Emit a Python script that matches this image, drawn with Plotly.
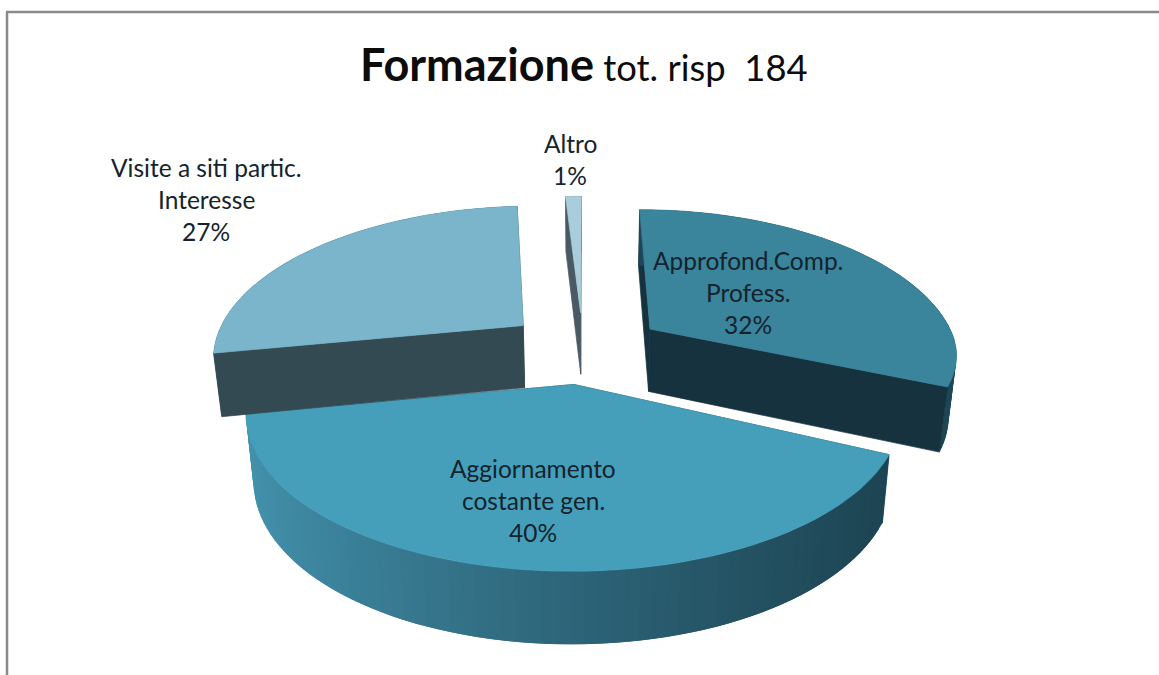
import numpy as np
import plotly.graph_objects as go

# ---- data ----
categories = ["Approfond.Comp.<br>Profess.", "Aggiornamento<br>costante gen.",
              "Visite a siti partic.<br>Interesse", "Altro"]
values = [32, 40, 27, 1]
title_bold = "Formazione"
title_rest = " tot. risp  184"

# ---- style ----
top_colors = ["#3A849C", "#459FBA", "#7AB5CB", "#A9CDDA"]
face_colors = ["#16323F", "#1E4655", "#334A52", "#4A5A64"]
pulls = [0.225, 0.265, 0.227, 0.20]
pull_turn = [9.9, 0.0, -8.8, -2.3]
radii_x = [0.96, 0.958, 0.97, 0.977]
radii_back = [0.96, 0.89, 0.97, 0.977]
radii_front = [0.854, 0.89, 0.97, 0.977]
draw_order = [1, 3, 0, 2]
label_pos = [(748, 260), (533, 468), (206, 167), (570, 143)]
LINE_STEP = 32

# projection of the tilted pie onto the canvas (perspective)
CX, CY = 585, 342
AX, AY, K, DEPTH, KZ, XZ = 318, 153, 0.20, 63, 0.12, 0.022


def project(x, y, z=0.0):
    x, y = np.asarray(x, float), np.asarray(y, float)
    d = 1 + K * y
    dz = 1 + KZ * y
    return CX + AX * x / d * (1 - XZ * z), CY - AY * y / d + z * DEPTH / dz


def poly(fig, xs, ys, color, width=0.7):
    fig.add_trace(go.Scatter(
        x=np.r_[xs, xs[0]], y=np.r_[ys, ys[0]], mode="lines", fill="toself",
        fillcolor=color, line=dict(color=color, width=width),
        hoverinfo="skip", showlegend=False))


def mix(c1, c2, t):
    a = [int(c1[i:i + 2], 16) for i in (1, 3, 5)]
    b = [int(c2[i:i + 2], 16) for i in (1, 3, 5)]
    return "#%02X%02X%02X" % tuple(int(round(p + (q - p) * t)) for p, q in zip(a, b))


fig = go.Figure()
total = sum(values)
edges = np.r_[0, np.cumsum(values)] / total * 2 * np.pi

for i in draw_order:
    a0, a1 = edges[i], edges[i + 1]
    mid = (a0 + a1) / 2 + np.radians(pull_turn[i])
    ox, oy = pulls[i] * np.sin(mid), pulls[i] * np.cos(mid)


    def rim_point(a):
        c = np.cos(a)
        return ox + radii_x[i] * np.sin(a), oy + np.where(c > 0, radii_back[i], radii_front[i]) * c


    ang = np.linspace(a0, a1, max(4, int(np.degrees(a1 - a0) / 2)))
    rx, ry = rim_point(ang)


    def radial(a):
        ex, ey = rim_point(a)
        xt, yt = project([ox, ex], [oy, ey], 0)
        xb, yb = project([ex, ox], [ey, oy], 1)
        poly(fig, np.r_[xt, xb], np.r_[yt, yb], face_colors[i])


    # faces turned away from the viewer go first, then the rim, then the others
    a0_visible, a1_visible = np.sin(a0) < 0, np.sin(a1) > 0
    if not a0_visible:
        radial(a0)
    if not a1_visible:
        radial(a1)

    # outer rim, strip by strip for the shading; strips overlap to hide seams
    for j in range(len(ang) - 1):
        sel = slice(j, min(j + 3, len(ang)))
        xt, yt = project(rx[sel], ry[sel], 0)
        xb, yb = project(rx[sel][::-1], ry[sel][::-1], 1)
        t = (xt[:2].mean() - 250) / 640
        if i == 1:
            col = mix("#4391AC", "#1D4453", min(max(t, 0), 1) ** 0.8)
        else:
            col = mix(face_colors[i], "#2B6F82", 0.35)
        poly(fig, np.r_[xt, xb], np.r_[yt, yb], col, width=0)

    if a0_visible:
        radial(a0)
    if a1_visible:
        radial(a1)

    # top surface
    xt, yt = project(np.r_[ox, rx], np.r_[oy, ry], 0)
    poly(fig, xt, yt, top_colors[i])

# slice labels
for cat, val, (lx, ly) in zip(categories, values, label_pos):
    lines = cat.split("<br>") + [f"{val}%"]
    for n, line in enumerate(lines):
        fig.add_annotation(x=lx, y=ly + n * LINE_STEP, text=line, showarrow=False,
                           xanchor="center", yanchor="middle",
                           font=dict(family="Lato", size=24.5, color="#14232C"))

# title
fig.add_annotation(
    x=584, y=64, showarrow=False, xanchor="center", yanchor="middle",
    text=f"<b style='font-size:45px'>{title_bold}</b>"
         f"<span style='font-size:36.4px'>{title_rest}</span>",
    font=dict(family="Lato", size=36.4, color="#0C0C0C"))

fig.update_layout(
    width=1159, height=675, margin=dict(l=0, r=0, t=0, b=0),
    paper_bgcolor="white", plot_bgcolor="white", showlegend=False,
    xaxis=dict(range=[0, 1159], visible=False, fixedrange=True),
    yaxis=dict(range=[675, 0], visible=False, fixedrange=True),
    shapes=[
        dict(type="line", x0=7, x1=7, y0=12, y1=675, line=dict(color="#8A8A8A", width=2.5)),
        dict(type="line", x0=6, x1=1159, y0=12, y1=12, line=dict(color="#8A8A8A", width=2.5)),
    ],
)
fig.write_html("out.html", config={"displayModeBar": False},
               post_script="document.body.style.margin='0';document.body.style.overflow='hidden';")
